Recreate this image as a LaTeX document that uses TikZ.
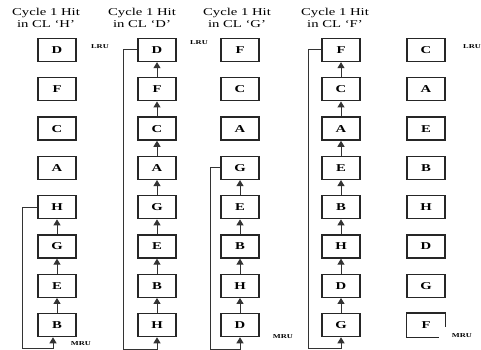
\documentclass[tikz,border=0pt]{standalone}
\usepackage{fontspec}
\newfontfamily\tfont[FakeStretch=1.4]{Liberation Serif}
\usetikzlibrary{arrows.meta,calc}
\begin{document}
\begin{tikzpicture}[x=1pt,y=-1pt,
  cell/.style={draw=black!85,line width=1.3pt,minimum width=38pt,minimum height=23pt,inner sep=0pt,
    font=\tfont\fontsize{10.5}{12}\selectfont\bfseries},
  cellnd/.style={cell,draw=none},
  conn/.style={draw=black!80,line width=1pt,-{Triangle[width=7pt,length=6pt]}},
  title/.style={align=center,inner sep=0pt,font=\tfont\fontsize{10.5}{12}\selectfont},
  tag/.style={inner sep=0pt,font=\tfont\fontsize{6}{7}\selectfont\bfseries}]
\useasboundingbox (0,0) rectangle (481,350);
% boxes
\foreach \col/\x/\letters in {1/57/{D,F,C,A,H,G,E,B},2/157/{D,F,C,A,G,E,B,H},3/240/{F,C,A,G,E,B,H,D},4/341/{F,C,A,E,B,H,D,G}}{
  \foreach \l [count=\r] in \letters {
    \node[cell] (c\col r\r) at (\x,{50+(\r-1)*39.3}) {\l};
  }
}
\foreach \l [count=\r] in {C,A,E,B,H,D,G}{
  \node[cell] (c5r\r) at (426,{50+(\r-1)*39.3}) {\l};
}
\node[cellnd] (c5r8) at (426,325.1) {F};
\draw[draw=black!85,line width=1.3pt] ($(c5r8.south east)+(-7,0)$) -- (c5r8.south west) -- (c5r8.north west) -- (c5r8.north east) -- ($(c5r8.north east)+(0,14)$);
% titles
\node[title] (t1) at (46,18) {Cycle 1 Hit\\in CL ‘H’};
\node[title] (t2) at (142,18) {Cycle 1 Hit\\in CL ‘D’};
\node[title] (t3) at (237,18) {Cycle 1 Hit\\in CL ‘G’};
\node[title] (t4) at (335,18) {Cycle 1 Hit\\in CL ‘F’};
% labels
\node[tag] (l1) at (100,47) {LRU};
\node[tag] (l2) at (199,43) {LRU};
\node[tag,anchor=west] (l5) at (463,47) {LRU};
\node[tag] (m1) at (81,344) {MRU};
\node[tag] (m3) at (283,337) {MRU};
\node[tag] (m5) at (462,336) {MRU};
% arrows within columns
\foreach \r [evaluate=\r as \u using int(\r-1)] in {8,7,6}{\draw[conn] (c1r\r.north) -- (c1r\u.south);}
\foreach \r [evaluate=\r as \u using int(\r-1)] in {8,7,6,5,4,3,2}{\draw[conn] (c2r\r.north) -- (c2r\u.south);}
\foreach \r [evaluate=\r as \u using int(\r-1)] in {8,7,6,5}{\draw[conn] (c3r\r.north) -- (c3r\u.south);}
\foreach \r [evaluate=\r as \u using int(\r-1)] in {8,7,6,5,4,3,2}{\draw[conn] (c4r\r.north) -- (c4r\u.south);}
% wrap-around loops
\coordinate (w1) at (22,348);
\coordinate (w2) at (123,349);
\coordinate (w3) at (210,349);
\coordinate (w4) at (308,348);
\draw[conn] (c1r5.west) -| (w1) -| ($(c1r8.south)+(-4,0)$);
\draw[conn] (c2r1.west) -| (w2) -| (c2r8.south);
\draw[conn] (c3r4.west) -| (w3) -| (c3r8.south);
\draw[conn] (c4r1.west) -| (w4) -| (c4r8.south);
\end{tikzpicture}
\end{document}
